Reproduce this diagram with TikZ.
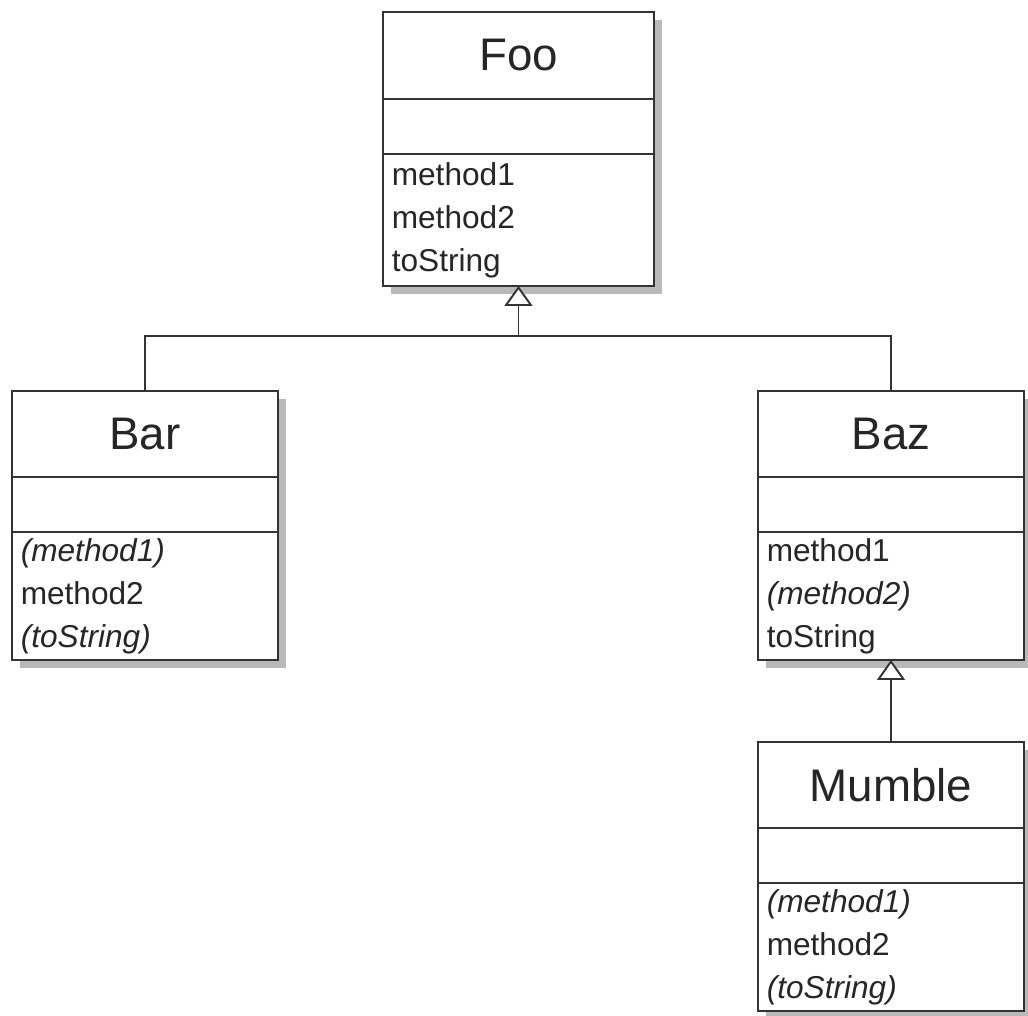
\documentclass[tikz,border=0pt]{standalone}
\usepackage{fontspec}
\setmainfont{Liberation Sans}
\usetikzlibrary{positioning,backgrounds,arrows.meta}

\tikzset{
  umlpart/.style={draw=black!80, line width=1.1pt, fill=white, text=black!85, anchor=north west,
    inner sep=0pt, outer sep=0pt},
  umltitle/.style={umlpart, minimum width=#1, minimum height=1.72cm, font=\fontsize{26}{30}\selectfont},
  umlattr/.style={umlpart, minimum width=#1, minimum height=1.1cm},
  umlops/.style={umlpart, text width=#1, inner xsep=5pt, minimum height=2.56cm, align=left,
    font=\fontsize{18}{24.4}\selectfont},
  umlshadow/.style={fill=gray!55},
  umlline/.style={draw=black!80, line width=1.1pt},
  inherit/.style={umlline, -{Triangle[open, fill=white, width=0.56cm, length=0.4cm]}},
}

\begin{document}
\begin{tikzpicture}[x=0.02cm, y=-0.02cm]
	\useasboundingbox (0,0) rectangle (1028,1015);
	% Foo
	\node[umltitle=5.42cm, minimum height=1.74cm] (foo) at (383,12) {Foo};
	\node[umlattr=5.42cm, below=0pt of foo] (fooattr) {};
	\node[umlops=144.2pt, minimum height=2.64cm, below=0pt of fooattr] (fooops) {method1\\method2\\toString};
	% Bar
	\node[umltitle=5.32cm] (bar) at (12,391) {Bar};
	\node[umlattr=5.32cm, below=0pt of bar] (barattr) {};
	\node[umlops=141.4pt, below=0pt of barattr] (barops) {\textit{(method1)}\\method2\\\textit{(toString)}};
	% Baz
	\node[umltitle=5.32cm] (baz) at (758,391) {Baz};
	\node[umlattr=5.32cm, below=0pt of baz] (bazattr) {};
	\node[umlops=141.4pt, below=0pt of bazattr] (bazops) {method1\\\textit{(method2)}\\toString};
	% Mumble
	\node[umltitle=5.32cm] (mumble) at (758,742) {Mumble};
	\node[umlattr=5.32cm, below=0pt of mumble] (mumbleattr) {};
	\node[umlops=141.4pt, below=0pt of mumbleattr] (mumbleops) {\textit{(method1)}\\method2\\\textit{(toString)}};
	% shadows behind the classes
	\begin{scope}[on background layer]
		\foreach \cls in {foo,bar,baz,mumble}
			\fill[umlshadow] ([shift={(8,8)}]\cls.north west) rectangle ([shift={(8,8)}]\cls ops.south east);
	\end{scope}
	% generalisations
	\coordinate (split) at (fooops.south |- 0,336);
	\draw[umlline] (bar.north) |- (split) -| (baz.north);
	\draw[inherit] (split) -- (fooops.south);
	\draw[inherit] (mumble.north) -- (bazops.south);
\end{tikzpicture}
\end{document}
